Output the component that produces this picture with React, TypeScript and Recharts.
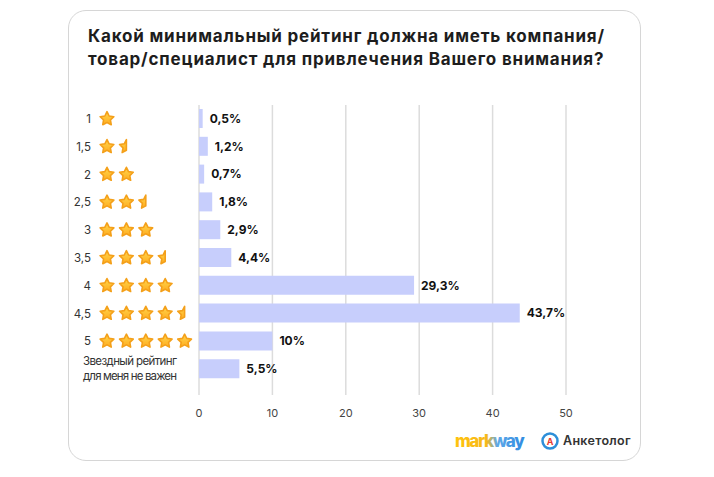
import { Bar, BarChart, CartesianGrid, LabelList, XAxis, YAxis } from "recharts";

const noRatingLines = ["Звездный рейтинг", "для меня не важен"];
const categories = ["1", "1,5", "2", "2,5", "3", "3,5", "4", "4,5", "5", noRatingLines.join(" ")];
const starCounts = [1, 1.5, 2, 2.5, 3, 3.5, 4, 4.5, 5, 0];
const shares = [0.5, 1.2, 0.7, 1.8, 2.9, 4.4, 29.3, 43.7, 10, 5.5];
const xTicks = [0, 10, 20, 30, 40, 50];

const data = categories.map((label, i) => ({ label, value: shares[i] }));

const FONT = "Inter, 'Noto Sans', sans-serif";
const AXIS_WIDTH = 130;
const MARGIN_LEFT = 69;

function starPath(R: number, r: number, half: boolean) {
  const pts: string[] = [];
  const n = half ? 6 : 10;
  for (let k = 0; k < n; k++) {
    // counter-clockwise from the top point for the half star
    const step = half ? -k : k;
    const a = ((-90 + 36 * step) * Math.PI) / 180;
    const rad = k % 2 === 0 ? R : r;
    pts.push(`${(Math.cos(a) * rad).toFixed(2)},${(Math.sin(a) * rad).toFixed(2)}`);
  }
  return "M" + pts.join("L") + "Z";
}

function Star({ cx, cy, half }: { cx: number; cy: number; half?: boolean }) {
  return (
    <path
      d={starPath(7.2, 3.6, !!half)}
      transform={`translate(${cx},${cy})`}
      fill="url(#starFill)"
      stroke="#f4a01a"
      strokeWidth={1.6}
      strokeLinejoin="round"
    />
  );
}

function RatingTick(props: any) {
  const { y, payload } = props;
  const i = categories.indexOf(payload.value);
  const count = starCounts[i];
  const left = MARGIN_LEFT;
  if (!count) {
    return (
      <text x={left + 14} y={y} fontFamily={FONT} fontSize={11.5} fill="#333">
        <tspan x={left + 14} dy={-4} textLength={94} lengthAdjust="spacing">
          {noRatingLines[0]}
        </tspan>
        <tspan x={left + 14} dy={15} textLength={94} lengthAdjust="spacing">
          {noRatingLines[1]}
        </tspan>
      </text>
    );
  }
  const full = Math.floor(count);
  const stars = [];
  for (let s = 0; s < full; s++) {
    stars.push(<Star key={s} cx={left + 38 + s * 19.4} cy={y} />);
  }
  if (count > full) {
    stars.push(<Star key="half" cx={left + 38 + full * 19.4} cy={y} half />);
  }
  return (
    <g>
      <text x={left + 22} y={y + 4} textAnchor="end" fontFamily={FONT} fontSize={11.5} fill="#333">
        {payload.value}
      </text>
      {stars}
    </g>
  );
}

export default function App() {
  return (
    <div style={{ position: "absolute", left: 0, top: 0, width: 714, height: 477, background: "#fff" }}>
      <div
        style={{
          position: "absolute",
          left: 68,
          top: 10,
          width: 573,
          height: 451,
          border: "1px solid #d6d6d6",
          borderRadius: 18,
          boxSizing: "border-box",
        }}
      />
      <div
        style={{
          position: "absolute",
          left: 88,
          top: 25,
          fontFamily: FONT,
          fontWeight: 700,
          fontSize: 17,
          letterSpacing: 0.8,
          lineHeight: "23px",
          color: "#1d1d1d",
          whiteSpace: "nowrap",
        }}
      >
        Какой минимальный рейтинг должна иметь компания/
        <br />
        товар/специалист для привлечения Вашего внимания?
      </div>
      <div style={{ position: "absolute", left: 0, top: 0 }}>
        <BarChart
          width={714}
          height={477}
          layout="vertical"
          data={data}
          barSize={19}
          margin={{ top: 105, right: 148, bottom: 52, left: MARGIN_LEFT }}
        >
          <defs>
            <linearGradient id="starFill" x1="0" x2="0" y1="0" y2="1">
              <stop offset="0%" stopColor="#ffd84d" />
              <stop offset="100%" stopColor="#ffab1f" />
            </linearGradient>
          </defs>
          <CartesianGrid horizontal={false} stroke="#dcdcdc" strokeWidth={1.5} />
          <XAxis
            type="number"
            domain={[0, 50]}
            ticks={xTicks}
            axisLine={false}
            tickLine={false}
            tickMargin={8}
            tick={{ fill: "#444", fontSize: 11, fontFamily: FONT }}
          />
          <YAxis
            type="category"
            dataKey="label"
            width={AXIS_WIDTH}
            axisLine={false}
            tickLine={false}
            interval={0}
            padding={{ top: 0, bottom: 12 }}
            tick={<RatingTick />}
          />
          <Bar dataKey="value" fill="#c7cefc" isAnimationActive={false}>
            <LabelList
              dataKey="value"
              position="right"
              offset={7}
              formatter={(v: any) => `${String(v).replace(".", ",")}%`}
              style={{ fill: "#111", fontSize: 12, fontWeight: 700, fontFamily: FONT }}
            />
          </Bar>
        </BarChart>
      </div>
      <svg width={714} height={477} style={{ position: "absolute", left: 0, top: 0, pointerEvents: "none" }}>
        <defs>
          <linearGradient id="markway" x1="0" x2="1" y1="0" y2="0">
            <stop offset="0%" stopColor="#ffc20e" />
            <stop offset="45%" stopColor="#f7b81a" />
            <stop offset="60%" stopColor="#5fa8e8" />
            <stop offset="100%" stopColor="#2f8ae0" />
          </linearGradient>
        </defs>
        <text x={455} y={447} fontFamily={FONT} fontWeight={800} fontSize={17} letterSpacing={-1.4} fill="url(#markway)">
          markway
        </text>
        <circle cx={550} cy={441} r={7.5} fill="#fff" stroke="#2d8fd9" strokeWidth={2.5} />
        <text x={550} y={444.5} textAnchor="middle" fontFamily={FONT} fontWeight={700} fontSize={9} fill="#e53935">
          A
        </text>
        <text x={563} y={445} fontFamily={FONT} fontWeight={600} fontSize={12.5} letterSpacing={0.3} fill="#333">
          Анкетолог
        </text>
      </svg>
    </div>
  );
}
